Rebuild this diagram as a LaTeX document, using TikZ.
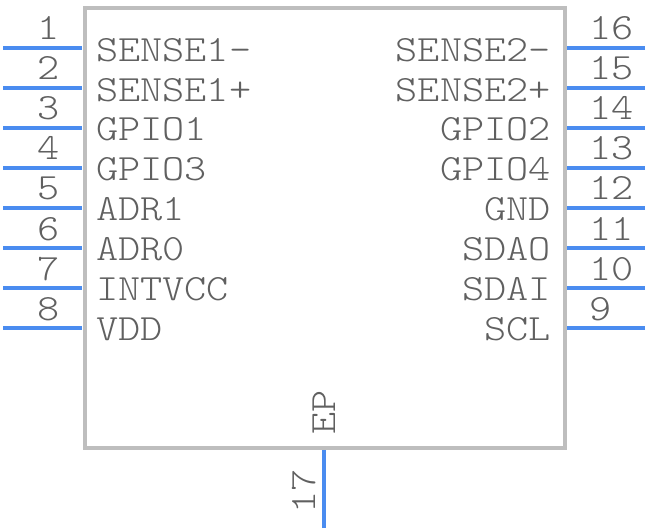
\documentclass[tikz,border=0pt]{standalone}
\usepackage{xcolor}
\definecolor{pinblue}{RGB}{74, 140, 240}
\definecolor{bodygray}{RGB}{190, 190, 190}
\definecolor{textgray}{RGB}{96, 96, 96}
\usepackage{fontspec}
\newfontfamily\pinfont[FakeStretch=1.14]{Latin Modern Mono Light}
\usepackage{tikz}
\usetikzlibrary{positioning,calc}
\tikzset{
    pinline/.style={line width=4pt, color=pinblue},
    lname/.style={anchor=base west, inner sep=0pt},
    rname/.style={anchor=base east, inner sep=0pt},
    lnum/.style={anchor=base east, inner sep=0pt},
    rnum/.style={anchor=base west, inner sep=0pt},
    vtext/.style={anchor=base west, inner sep=0pt, rotate=90}
}

\begin{document}
\begin{tikzpicture}[x=1pt, y=-1pt, every node/.style={font=\pinfont\fontsize{37}{37}\selectfont, text=textgray}]
    \useasboundingbox (0,0) rectangle (648,532);

    % Body outline
    \node[draw=bodygray, line width=4pt, minimum width=480pt, minimum height=439.5pt, inner sep=0pt, outer sep=0pt, anchor=north west] (body) at (84.5,8.5) {};

    % Left pins
    \coordinate (p1) at (3,48);
    \coordinate (p2) at (3,88);
    \coordinate (p3) at (3,128);
    \coordinate (p4) at (3,168);
    \coordinate (p5) at (3,208);
    \coordinate (p6) at (3,248);
    \coordinate (p7) at (3,288);
    \coordinate (p8) at (3,328);
    \draw[pinline, shorten >=3pt] (p1) -- (p1 -| body.west);
    \draw[pinline, shorten >=3pt] (p2) -- (p2 -| body.west);
    \draw[pinline, shorten >=3pt] (p3) -- (p3 -| body.west);
    \draw[pinline, shorten >=3pt] (p4) -- (p4 -| body.west);
    \draw[pinline, shorten >=3pt] (p5) -- (p5 -| body.west);
    \draw[pinline, shorten >=3pt] (p6) -- (p6 -| body.west);
    \draw[pinline, shorten >=3pt] (p7) -- (p7 -| body.west);
    \draw[pinline, shorten >=3pt] (p8) -- (p8 -| body.west);

    % Right pins
    \coordinate (p16) at (645,48);
    \coordinate (p15) at (645,88);
    \coordinate (p14) at (645,128);
    \coordinate (p13) at (645,168);
    \coordinate (p12) at (645,208);
    \coordinate (p11) at (645,248);
    \coordinate (p10) at (645,288);
    \coordinate (p9) at (645,328);
    \draw[pinline, shorten >=2pt] (p16) -- (p16 -| body.east);
    \draw[pinline, shorten >=2pt] (p15) -- (p15 -| body.east);
    \draw[pinline, shorten >=2pt] (p14) -- (p14 -| body.east);
    \draw[pinline, shorten >=2pt] (p13) -- (p13 -| body.east);
    \draw[pinline, shorten >=2pt] (p12) -- (p12 -| body.east);
    \draw[pinline, shorten >=2pt] (p11) -- (p11 -| body.east);
    \draw[pinline, shorten >=2pt] (p10) -- (p10 -| body.east);
    \draw[pinline, shorten >=2pt] (p9) -- (p9 -| body.east);

    % Bottom pin
    \coordinate (p17) at (324,528);
    \draw[pinline, shorten >=2pt] (p17) -- (p17 |- body.south);

    % Pin numbers
    \node[lnum] (n1) at (60,40) {1};
    \node[lnum] (n2) at (60,80) {2};
    \node[lnum] (n3) at (60,120) {3};
    \node[lnum] (n4) at (60,160) {4};
    \node[lnum] (n5) at (60,200) {5};
    \node[lnum] (n6) at (60,240) {6};
    \node[lnum] (n7) at (60,280) {7};
    \node[lnum] (n8) at (60,320) {8};
    \node[rnum] (n16) at (589,40) {16};
    \node[rnum] (n15) at (589,80) {15};
    \node[rnum] (n14) at (589,120) {14};
    \node[rnum] (n13) at (589,160) {13};
    \node[rnum] (n12) at (589,200) {12};
    \node[rnum] (n11) at (589,240) {11};
    \node[rnum] (n10) at (589,280) {10};
    \node[rnum] (n9) at (589,320) {9};
    \node[vtext] (n17) at (315,514) {17};

    % Pin names
    \node[lname] (s1) at (96,61.5) {SENSE1-};
    \node[lname] (s2) at (96,101.5) {SENSE1+};
    \node[lname] (s3) at (96,141) {GPIO1};
    \node[lname] (s4) at (96,181) {GPIO3};
    \node[lname] (s5) at (96,220.5) {ADR1};
    \node[lname] (s6) at (96,260.5) {ADR0};
    \node[lname] (s7) at (96,300) {INTVCC};
    \node[lname] (s8) at (96,340) {VDD};
    \node[rname] (s16) at (551,61.5) {SENSE2-};
    \node[rname] (s15) at (551,101.5) {SENSE2+};
    \node[rname] (s14) at (551,141) {GPIO2};
    \node[rname] (s13) at (551,181) {GPIO4};
    \node[rname] (s12) at (551,220.5) {GND};
    \node[rname] (s11) at (551,260.5) {SDAO};
    \node[rname] (s10) at (551,300) {SDAI};
    \node[rname] (s9) at (551,340) {SCL};
    \node[vtext] (s17) at (335.5,435) {EP};
\end{tikzpicture}
\end{document}
